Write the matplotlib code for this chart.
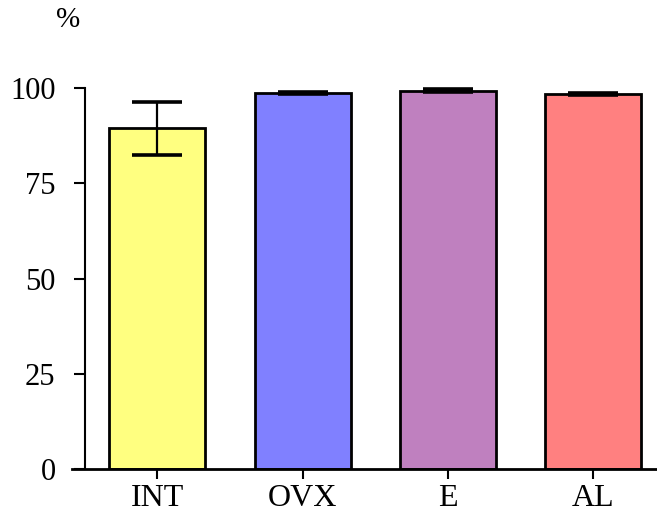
import matplotlib.pyplot as plt
import numpy as np

# group names, mean % and error
groups = ['INT', 'OVX', 'E', 'AL']
means = [89.5, 98.8, 99.4, 98.4]
errors = [7.0, 0.3, 0.3, 0.3]
colors = ['#FFFF80', '#8080FF', '#BF80BF', '#FF8080']
yticks = [0, 25, 50, 75, 100]

plt.rcParams['font.family'] = ['Liberation Serif', 'DejaVu Serif']

fig = plt.figure(figsize=(6.57, 5.16), dpi=100)
ax = fig.add_axes([0.129, 0.091, 0.871, 0.738])

x = np.arange(len(groups))
ax.bar(x, means, width=0.66, color=colors, edgecolor='black', linewidth=2, zorder=2)
ax.errorbar(x, means, yerr=errors, fmt='none', ecolor='black', elinewidth=1.6,
            capsize=18, capthick=2.6, zorder=3, clip_on=False)

ax.set_xlim(-0.5, 3.44)
ax.set_ylim(0, 100)
ax.set_xticks(x)
ax.set_xticklabels(groups)
ax.set_yticks(yticks)
ax.tick_params(axis='y', length=8, width=1.5, labelsize=22, pad=13)
ax.tick_params(axis='x', length=7, width=1.5, labelsize=23, pad=4)

ax.spines['top'].set_visible(False)
ax.spines['right'].set_visible(False)
ax.spines['left'].set_linewidth(1.5)
ax.spines['bottom'].set_linewidth(2)
ax.spines['bottom'].set_bounds(-0.59, 3.44)

fig.text(0.1035, 0.962, '%', fontsize=21, ha='center', va='center')

fig.savefig('out.png', dpi=100)
